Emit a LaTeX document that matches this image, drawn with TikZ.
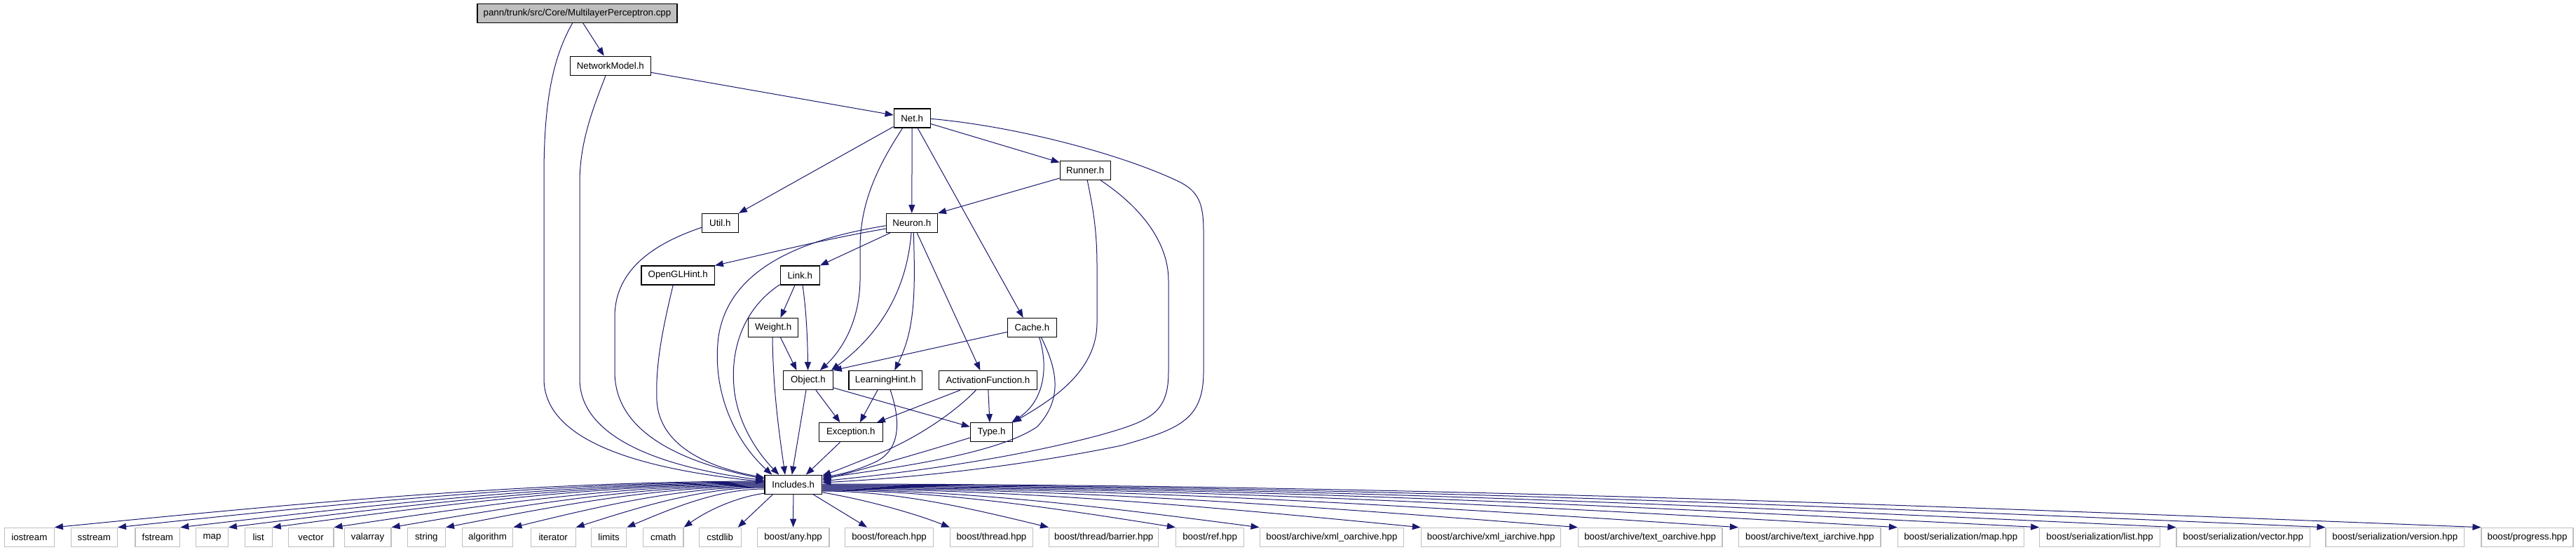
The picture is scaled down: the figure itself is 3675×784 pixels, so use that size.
\documentclass[tikz,border=0pt]{standalone}
\usepackage{fontspec}
\setmainfont{Liberation Sans}
\usetikzlibrary{arrows.meta,calc}
\definecolor{edgec}{HTML}{191970}
\definecolor{grayb}{HTML}{BFBFBF}
\begin{document}
\begin{tikzpicture}[x=1pt,y=-1pt,
  every node/.style={font=\fontsize{13.3}{15}\selectfont, inner sep=0pt, minimum height=27pt, anchor=center},
  box/.style={draw=black, line width=1.2pt, fill=white},
  rootbox/.style={box, fill=grayb},
  extbox/.style={draw=grayb, line width=1.2pt, fill=white},
  e/.style={draw=edgec, line width=1pt, -{Triangle[length=12pt,width=9pt]}},
]
\useasboundingbox (0,0) rectangle (3675,784);
\fill[white] (0,0) rectangle (3675,784);

% main nodes
\node[rootbox, minimum width=285pt] (root) at (823.5,18.8) {pann/trunk/src/Core/MultilayerPerceptron.cpp};
\node[box, minimum width=115pt] (nm) at (870.8,93.7) {NetworkModel.h};
\node[box, minimum width=52pt] (net) at (1301.2,168.5) {Net.h};
\node[box, minimum width=72pt] (runner) at (1548.2,243) {Runner.h};
\node[box, minimum width=52pt] (util) at (1027.3,318) {Util.h};
\node[box, minimum width=73pt] (neuron) at (1300.8,318) {Neuron.h};
\node[box, minimum width=104.3pt] (ogl) at (967.2,392.5) {OpenGLHint.h};
\node[box, minimum width=56pt] (link) at (1141.3,392.5) {Link.h};
\node[box, minimum width=71.2pt] (weight) at (1103.2,467) {Weight.h};
\node[box, minimum width=70.2pt] (cache) at (1472.4,467) {Cache.h};
\node[box, minimum width=70.6pt] (object) at (1152.9,542) {Object.h};
\node[box, minimum width=104.3pt] (lhint) at (1263.2,542) {LearningHint.h};
\node[box, minimum width=139.7pt] (af) at (1409.4,542) {ActivationFunction.h};
\node[box, minimum width=91pt] (exc) at (1213.8,616.3) {Exception.h};
\node[box, minimum width=60.3pt] (type) at (1414.5,616.3) {Type.h};
\node[box, minimum width=81.7pt] (inc) at (1131.8,690.8) {Includes.h};

% bottom row
\node[extbox, minimum width=70.9pt] (iostream) at (41.85,765.8) {iostream};
\node[extbox, minimum width=66.2pt] (sstream) at (134.3,765.8) {sstream};
\node[extbox, minimum width=63.8pt] (fstream) at (224.8,765.8) {fstream};
\node[extbox, minimum width=45.5pt] (map) at (302.55,765.8) {map};
\node[extbox, minimum width=39pt] (list) at (368.7,765.8) {list};
\node[extbox, minimum width=64.6pt] (vector) at (443.6,765.8) {vector};
\node[extbox, minimum width=66.9pt] (valarray) at (524.55,765.8) {valarray};
\node[extbox, minimum width=54.2pt] (string) at (608.3,765.8) {string};
\node[extbox, minimum width=72.5pt] (algorithm) at (695.55,765.8) {algorithm};
\node[extbox, minimum width=63.8pt] (iterator) at (789.2,765.8) {iterator};
\node[extbox, minimum width=50.3pt] (limits) at (868.55,765.8) {limits};
\node[extbox, minimum width=57.4pt] (cmath) at (946.3,765.8) {cmath};
\node[extbox, minimum width=59.8pt] (cstdlib) at (1027.2,765.8) {cstdlib};
\node[extbox, minimum width=102.8pt] (any) at (1131.6,765.8) {boost/any.hpp};
\node[extbox, minimum width=125.9pt] (foreach) at (1268.55,765.8) {boost/foreach.hpp};
\node[extbox, minimum width=117.9pt] (thread) at (1414.45,765.8) {boost/thread.hpp};
\node[extbox, minimum width=156.2pt] (barrier) at (1574.7,765.8) {boost/thread/barrier.hpp};
\node[extbox, minimum width=97.3pt] (ref) at (1726.15,765.8) {boost/ref.hpp};
\node[extbox, minimum width=205.7pt] (xmlo) at (1899.95,765.8) {boost/archive/xml\_oarchive.hpp};
\node[extbox, minimum width=199.3pt] (xmli) at (2127.15,765.8) {boost/archive/xml\_iarchive.hpp};
\node[extbox, minimum width=205.4pt] (texto) at (2354.2,765.8) {boost/archive/text\_oarchive.hpp};
\node[extbox, minimum width=202.5pt] (texti) at (2581.75,765.8) {boost/archive/text\_iarchive.hpp};
\node[extbox, minimum width=179.7pt] (smap) at (2797.25,765.8) {boost/serialization/map.hpp};
\node[extbox, minimum width=171.6pt] (slist) at (2995.6,765.8) {boost/serialization/list.hpp};
\node[extbox, minimum width=190.3pt] (svector) at (3200.15,765.8) {boost/serialization/vector.hpp};
\node[extbox, minimum width=197.6pt] (sversion) at (3416.8,765.8) {boost/serialization/version.hpp};
\node[extbox, minimum width=131pt] (progress) at (3605.5,765.8) {boost/progress.hpp};

% root
\draw[e] ($(root.south)+(8.2,0)$) -- ($(nm.north)+(-9.1,0)$);
\draw[e] ($(root.south)+(-6.8,0)$) .. controls (790,80) and (776,140) .. (776,250) -- (776,540) .. controls (776,640) and (950,672) .. ($(inc.west)+(0,-4)$);
% NetworkModel
\draw[e] ($(nm.east)+(0,9.6)$) -- ($(net.west)+(0,-4.5)$);
\draw[e] ($(nm.south)+(-6.8,0)$) .. controls (848,150) and (827,200) .. (827,260) -- (827,540) .. controls (827,630) and (960,668) .. ($(inc.west)+(0,-6)$);
% Net
\draw[e] ($(net.south west)+(0,-2)$) -- (util.north east);
\draw[e] (net.south) -- (neuron.north);
\draw[e] ($(net.east)+(0,8)$) -- ($(runner.west)+(0,-11.5)$);
\draw[e] ($(net.south)+(-13.5,0)$) .. controls (1250,240) and (1228,290) .. (1227,350) -- (1227,400) .. controls (1226,460) and (1200,500) .. ($(object.north)+(17,0)$);
\draw[e] ($(net.south)+(8,0)$) -- ($(cache.north)+(-12.7,0)$);
\draw[e] ($(net.east)+(0,0.8)$) .. controls (1450,180) and (1600,220) .. (1680,258) .. controls (1710,272) and (1717,290) .. (1717,330) -- (1717,530) .. controls (1717,600) and (1680,612) .. (1600,635) .. controls (1420,672) and (1250,684) .. ($(inc.east)+(0,-3)$);
% Runner
\draw[e] ($(runner.west)+(0,11)$) -- (neuron.north east);
\draw[e] ($(runner.south)+(3,0)$) .. controls (1560,300) and (1565,330) .. (1565,380) -- (1565,460) .. controls (1565,530) and (1500,570) .. (type.north east);
\draw[e] ($(runner.south)+(22,0)$) .. controls (1620,290) and (1667,340) .. (1667,400) -- (1667,530) .. controls (1667,590) and (1640,600) .. (1570,620) .. controls (1420,660) and (1250,678) .. ($(inc.east)+(0,-5)$);
% Util
\draw[e] ($(util.west)+(0,6.3)$) .. controls (940,345) and (878,380) .. (877,450) -- (877,530) .. controls (877,620) and (980,660) .. ($(inc.west)+(0,-8)$);
% Neuron
\draw[e] ($(neuron.west)+(0,8)$) .. controls (1180,340) and (1080,365) .. (ogl.north east);
\draw[e] ($(neuron.south west)+(6,0)$) -- (link.north east);
\draw[e] ($(neuron.south)+(-0.8,0)$) .. controls (1293,420) and (1250,480) .. ($(object.north east)+(-3,0)$);
\draw[e] ($(neuron.south)+(2.5,0)$) .. controls (1306,420) and (1305,470) .. ($(lhint.north)+(13,0)$);
\draw[e] ($(neuron.south)+(7.5,0)$) -- ($(af.north)+(-11,0)$);
\draw[e] ($(neuron.west)+(0,3.7)$) .. controls (1150,340) and (1040,380) .. (1025,480) .. controls (1015,560) and (1050,630) .. ($(inc.north west)+(11,0)$);
% OpenGLHint
\draw[e] ($(ogl.south)+(-7,0)$) .. controls (945,470) and (935,520) .. (937,570) .. controls (940,640) and (1020,668) .. ($(inc.west)+(0,-10)$);
% Link
\draw[e] ($(link.south)+(-7.3,0)$) -- ($(weight.north)+(10.3,0)$);
\draw[e] ($(link.south)+(3.7,0)$) .. controls (1150,440) and (1152,480) .. ($(object.north)+(-0.3,0)$);
\draw[e] ($(link.south west)+(0,-1)$) .. controls (1060,440) and (1040,500) .. (1048,560) .. controls (1055,610) and (1085,650) .. ($(inc.north west)+(21,0)$);
% Weight
\draw[e] ($(weight.south)+(10.3,0)$) -- ($(object.north)+(-16.4,0)$);
\draw[e] ($(weight.south)+(-1.2,0)$) .. controls (1103,560) and (1112,620) .. ($(inc.north)+(-11.8,0)$);
% Cache
\draw[e] ($(cache.west)+(0,6.3)$) -- (object.north east);
\draw[e] ($(cache.south)+(10.3,0)$) .. controls (1495,520) and (1492,570) .. ($(type.north east)+(-2,0)$);
\draw[e] ($(cache.south)+(13.1,0)$) .. controls (1510,530) and (1515,570) .. (1480,608) .. controls (1420,650) and (1250,670) .. ($(inc.east)+(0,-9)$);
% Object
\draw[e] ($(object.south)+(11,0)$) -- ($(exc.north)+(-15.3,0)$);
\draw[e] ($(object.east)+(0,10.7)$) -- ($(type.west)+(0,-8)$);
\draw[e] ($(object.south)+(-2.9,0)$) -- ($(inc.north)+(-2,0)$);
% LearningHint
\draw[e] ($(lhint.south)+(-11.2,0)$) -- ($(exc.north)+(13,0)$);
\draw[e] ($(lhint.south)+(7,0)$) .. controls (1285,600) and (1285,640) .. (1250,658) .. controls (1220,672) and (1195,677) .. ($(inc.east)+(0,-11)$);
% ActivationFunction
\draw[e] ($(af.south west)+(31,0)$) -- ($(exc.north east)+(-9,0)$);
\draw[e] ($(af.south)+(0.4,0)$) -- ($(type.north)+(-2.5,0)$);
\draw[e] ($(af.south)+(-17,0)$) .. controls (1360,590) and (1300,630) .. (1240,652) .. controls (1210,664) and (1190,672) .. ($(inc.east)+(0,-13)$);
% Exception, Type
\draw[e] ($(exc.south)+(-15.3,0)$) -- ($(inc.north)+(18,0)$);
\draw[e] ($(type.west)+(0,7.7)$) .. controls (1300,650) and (1220,672) .. ($(inc.east)+(0,-7)$);

% Includes -> left bottom nodes
\foreach \t/\s/\dx/\dy in {iostream/-4.8/-1013.7/66.3, sstream/-3.8/-923.6/65.3, fstream/-2.8/-834.3/64.3, map/-1.8/-765.7/63.3, list/-0.8/-702.8/62.3, vector/0.2/-615.1/61.3, valarray/1.2/-533/60.3, string/2.2/-455.6/59.3, algorithm/3.2/-359.2/58.3, iterator/4.2/-269.9/57.3, limits/6.2/-197.3/55.3}
  \draw[e] ($(inc.west)+(0,\s)$) .. controls +({\dx/3},0) and +({0-(\dx)/3},{-0.5*\dy}) .. (\t.north east);
\draw[e] ($(inc.south west)+(2,-2)$) .. controls +(-40,5) and +(35,-25) .. (cmath.north east);
\draw[e] ($(inc.south west)+(12,0)$) -- ($(cstdlib.north east)+(-5,0)$);
\draw[e] (inc.south) -- (any.north);
\draw[e] ($(inc.south east)+(-13,0)$) -- ($(foreach.north west)+(32,0)$);
\draw[e] ($(inc.south east)+(0,-3)$) .. controls +(60,10) and +(-50,-20) .. (thread.north west);
% Includes -> right bottom nodes
\foreach \t/\s/\dx/\dy in {barrier/9.2/323.9/52.3, ref/8.2/504.8/53.3, xmlo/7.2/624.4/54.3, xmli/6.2/854.8/55.3, texto/5.2/1078.8/56.3, texti/4.2/1307.8/57.3, smap/3.2/1534.7/58.3, slist/2.2/1737.1/59.3, svector/1.2/1932.3/60.3, sversion/0.2/2145.3/61.3, progress/-0.8/2367.3/62.3}
  \draw[e] ($(inc.east)+(0,\s)$) .. controls +({\dx/3},0) and +({0-(\dx)/3},{-0.5*\dy}) .. (\t.north west);
\end{tikzpicture}
\end{document}
